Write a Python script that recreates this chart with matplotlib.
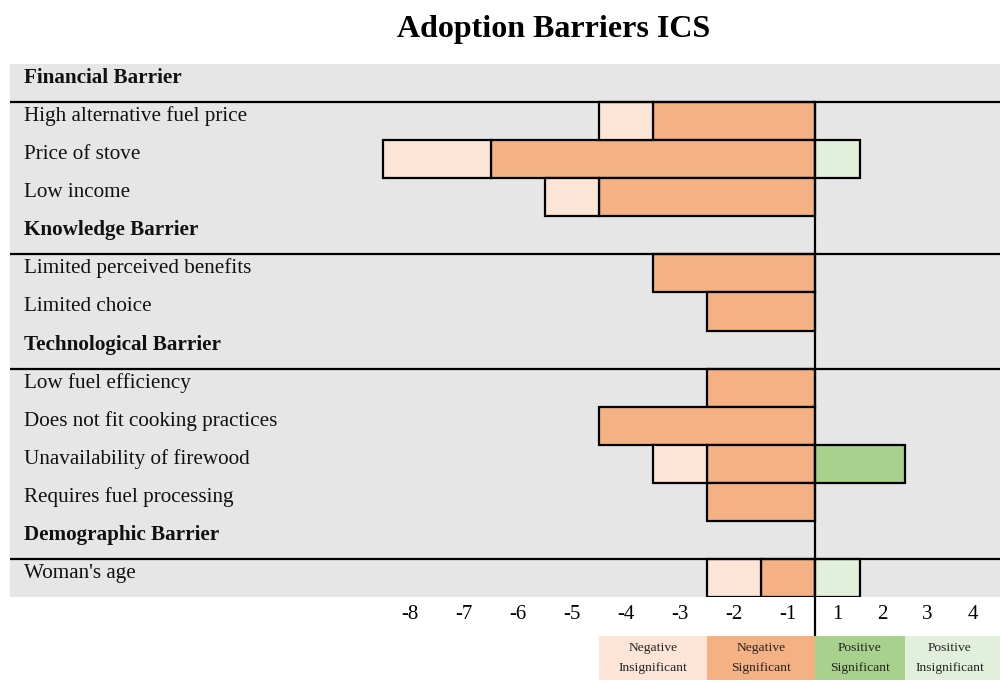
import numpy as np
import matplotlib
matplotlib.use("Agg")
import matplotlib.pyplot as plt
import matplotlib.transforms as mtransforms

plt.rcParams['font.family'] = ['Liberation Serif', 'DejaVu Serif']

# data
groups = ["Financial Barrier", "Knowledge Barrier", "Technological Barrier", "Demographic Barrier"]
group_items = [
    ["High alternative fuel price", "Price of stove", "Low income"],
    ["Limited perceived benefits", "Limited choice"],
    ["Low fuel efficiency", "Does not fit cooking practices",
     "Unavailability of firewood", "Requires fuel processing"],
    ["Woman's age"],
]
neg_significant = [3, 6, 4, 3, 2, 2, 4, 2, 2, 1]
neg_insignificant = [1, 2, 1, 0, 0, 0, 0, 1, 0, 1]
pos_significant = [0, 0, 0, 0, 0, 0, 0, 2, 0, 0]
pos_insignificant = [0, 1, 0, 0, 0, 0, 0, 0, 0, 1]

tick_pos = [-7.5, -6.5, -5.5, -4.5, -3.5, -2.5, -1.5, -0.5, 0.5, 1.5, 2.5, 3.5]
tick_labels = ["-8", "-7", "-6", "-5", "-4", "-3", "-2", "-1", "1", "2", "3", "4"]

legend_labels = ["Negative\nInsignificant", "Negative\nSignificant",
                 "Positive\nSignificant", "Positive\nInsignificant"]
legend_left = [-4, -2, 0, 2]
legend_width = [2, 2, 2, 2.2]

c_neg_ins = "#FCE4D6"
c_neg_sig = "#F4B183"
c_pos_sig = "#A9D18E"
c_pos_ins = "#E2EFDA"
c_bg = "#E6E6E6"
legend_colors = [c_neg_ins, c_neg_sig, c_pos_sig, c_pos_ins]


# negative units are drawn wider than positive ones
def fwd(x):
    x = np.asarray(x, dtype=float)
    return np.where(x < 0, x * 54.0, x * 45.0)


def inv(y):
    y = np.asarray(y, dtype=float)
    return np.where(y < 0, y / 54.0, y / 45.0)


W, H = 1002, 682
fig = plt.figure(figsize=(W / 100, H / 100), dpi=100)
ax = fig.add_axes([10 / W, (H - 597) / H, 990 / W, 533 / H])
ax.set_xscale('function', functions=(fwd, inv))
ax.set_facecolor(c_bg)
for s in ax.spines.values():
    s.set_visible(False)

# build rows
rows = []
header_rows = []
item_rows = []
for g, items in zip(groups, group_items):
    header_rows.append(len(rows))
    rows.append((g, True))
    for it in items:
        item_rows.append(len(rows))
        rows.append((it, False))
n_rows = len(rows)
ax.set_ylim(n_rows, 0)
ax.set_xlim(-14.907, 4.111)

y = np.array(item_rows) + 0.5
ns = np.array(neg_significant)
ni = np.array(neg_insignificant)
ps = np.array(pos_significant)
pi = np.array(pos_insignificant)

kw = dict(height=1.0, edgecolor="black", linewidth=1.6, zorder=3)
m = ns > 0
ax.barh(y[m], -ns[m], left=0, color=c_neg_sig, **kw)
m = ni > 0
ax.barh(y[m], -ni[m], left=-ns[m], color=c_neg_ins, **kw)
m = ps > 0
ax.barh(y[m], ps[m], left=0, color=c_pos_sig, **kw)
m = pi > 0
ax.barh(y[m], pi[m], left=ps[m], color=c_pos_ins, **kw)

# separator lines under group headers
trans = mtransforms.blended_transform_factory(ax.transAxes, ax.transData)
for r in header_rows:
    ax.plot([0, 1], [r + 1, r + 1], transform=trans, color="black", lw=1.6, zorder=4)

# zero line running down to the legend
ax.plot([0, 0], [1, n_rows + 1.03], color="black", lw=1.6, zorder=5, clip_on=False)

for i, (label, is_header) in enumerate(rows):
    ax.text(14 / 990, i + 0.37, label, transform=trans, va="center", ha="left",
            fontsize=15.2, fontweight="bold" if is_header else "normal", color="#111111")

ax.set_yticks([])
ax.set_xticks(tick_pos)
ax.set_xticklabels(tick_labels, fontsize=15)
ax.tick_params(axis="x", length=0, pad=6)

# legend strip
lax = fig.add_axes([10 / W, (H - 680) / H, 990 / W, 44 / H], sharex=ax)
lax.barh([0.5] * 4, legend_width, left=legend_left, height=1.0, color=legend_colors)
lax.set_ylim(0, 1)
lax.axis("off")
for lab, l, w in zip(legend_labels, legend_left, legend_width):
    lax.text(l + 1.0, 0.5, lab, ha="center", va="center", fontsize=9.7,
             linespacing=1.85, color="#222222")

fig.text(554 / W, 1 - 29 / H, "Adoption Barriers ICS", fontsize=23, fontweight="bold",
         ha="center", va="center")

fig.savefig("out.png", dpi=100)
